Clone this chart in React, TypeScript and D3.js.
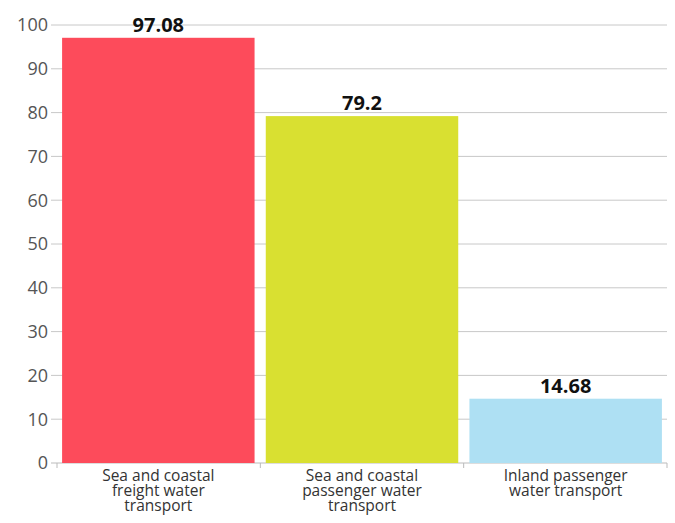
import React from "react";
import * as d3 from "d3";

const categories = [
  ["Sea and coastal", "freight water", "transport"],
  ["Sea and coastal", "passenger water", "transport"],
  ["Inland passenger", "water transport"],
];
const values = [97.08, 79.2, 14.68];
const valueLabels = ["97.08", "79.2", "14.68"];
const colors = ["#fd4b5b", "#d9e031", "#aee0f3"];
const yTicks = [0, 10, 20, 30, 40, 50, 60, 70, 80, 90, 100];

const W = 675;
const H = 523;
const left = 57;
const right = 667;
const top = 25;
const bottom = 463;
const font = "'Open Sans', 'Noto Sans', sans-serif";

export default function App() {
  const ids = categories.map((_, i) => String(i));
  const x = d3.scaleBand<string>().domain(ids).range([left, right]).paddingInner(0.055).paddingOuter(0.025);
  const y = d3.scaleLinear().domain([0, 100]).range([bottom, top]);
  const edges = d3.range(ids.length + 1).map((i) => left + (i * (right - left)) / ids.length);
  return (
    <svg width={W} height={H} style={{ position: "absolute", left: 0, top: 0 }} fontFamily={font}>
      {yTicks.map((t) => (
        <g key={t}>
          <line x1={left - 6} x2={right} y1={y(t)} y2={y(t)} stroke={t === 0 ? "#bbb" : "#c8c8c8"} strokeWidth={1} />
          <text x={left - 9} y={y(t)} dy="0.35em" textAnchor="end" fontSize={18} fill="#555">
            {t}
          </text>
        </g>
      ))}
      {edges.map((e, i) => (
        <line key={i} x1={e} x2={e} y1={bottom} y2={bottom + 5} stroke="#bbb" />
      ))}
      {values.map((v, i) => {
        const cx = (x(ids[i]) as number) + x.bandwidth() / 2;
        return (
          <g key={i}>
            <rect x={x(ids[i])} y={y(v)} width={x.bandwidth()} height={y(0) - y(v)} fill={colors[i]} />
            <text x={cx} y={y(v) - 6} textAnchor="middle" fontSize={20} fontWeight="bold" fill="#111">
              {valueLabels[i]}
            </text>
            {categories[i].map((l, j) => (
              <text key={j} x={cx} y={481 + j * 15} textAnchor="middle" fontSize={15.5} fill="#333">
                {l}
              </text>
            ))}
          </g>
        );
      })}
    </svg>
  );
}
